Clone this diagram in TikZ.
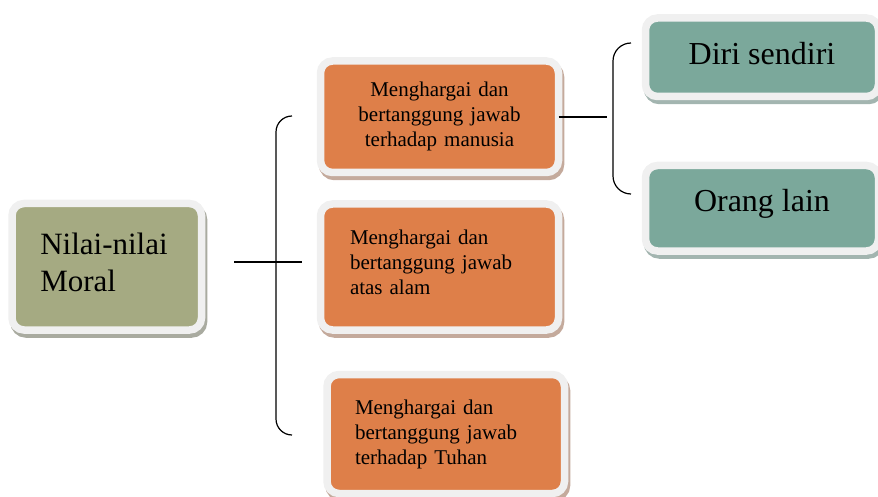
\documentclass[tikz,border=0pt]{standalone}
\usepackage{fontspec}
\setmainfont{Liberation Serif}
\usetikzlibrary{calc}
\definecolor{framecol}{HTML}{F0F0F0}
\definecolor{olivefill}{HTML}{A5AA82}
\definecolor{olivesh}{HTML}{A9ABA0}
\definecolor{orangefill}{HTML}{DE7F49}
\definecolor{orangesh}{HTML}{C4AA9C}
\definecolor{tealfill}{HTML}{7BA89B}
\definecolor{tealsh}{HTML}{A3B5B0}
\tikzset{
  card/.style 2 args={rounded corners=12pt, fill=#1, draw=framecol, line width=7.5pt,
    inner sep=0pt, outer sep=0pt,
    preaction={draw=#2, fill=#2, line width=7.5pt,
      transform canvas={xshift=2pt, yshift=-4pt}}},
  olivecard/.style={card={olivefill}{olivesh}},
  orangecard/.style={card={orangefill}{orangesh}},
  tealcard/.style={card={tealfill}{tealsh}},
  bracket/.style={draw=black, line width=1.2pt, rounded corners=16pt},
  link/.style={draw=black, line width=1.2pt},
  bigtext/.style={font=\fontsize{31}{37}\selectfont},
  midtext/.style={font=\fontsize{21}{25}\selectfont},
  headtext/.style={font=\fontsize{32}{38}\selectfont},
}
\begin{document}
\begin{tikzpicture}[x=1pt, y=-1pt]
  \useasboundingbox (0,0) rectangle (878,497);

  % root box
  \node[olivecard, bigtext, minimum width=189.5pt, minimum height=126.5pt,
        text width=133pt, align=left, text depth=47pt] (moral) at (106.75,266.75)
        {Nilai-nilai\\Moral};

  % second level boxes
  \node[orangecard, midtext, minimum width=238pt, minimum height=111.5pt,
        text width=200pt, align=center] (manusia) at (439.5,116.75)
        {Menghargai dan\\bertanggung jawab\\terhadap manusia};
  \node[orangecard, midtext, minimum width=238pt, minimum height=126pt,
        text width=179pt, align=left, text depth=60pt] (alam) at (439.5,267)
        {Menghargai dan\\bertanggung jawab\\atas alam};
  \node[orangecard, midtext, minimum width=237.5pt, minimum height=119pt,
        text width=181.5pt, align=left] (tuhan) at (445.75,434)
        {Menghargai dan\\bertanggung jawab\\terhadap Tuhan};

  % third level boxes
  \node[tealcard, headtext, minimum width=233pt, minimum height=78.5pt,
        align=center, text depth=7pt] (diri) at (762,57.25) {Diri sendiri};
  \node[tealcard, headtext, minimum width=233pt, minimum height=85.5pt,
        align=center, text depth=15pt] (lain) at (762,208.25) {Orang lain};

  % bracket from the root to the second level
  \coordinate (rootout) at ($(moral.east)+(32.5pt,4.75pt)$);
  \coordinate (rootstem) at (302,262);
  \coordinate (topend) at (292,116);
  \coordinate (botend) at (292,435);
  \draw[link] (rootout) -- (rootstem);
  \draw[bracket] (topend) -- (276,116) -- (276,435) -- (botend);

  % bracket from the first orange box to the third level
  \coordinate (subout) at ($(manusia.east)+(0pt,-0.25pt)$);
  \coordinate (substem) at (607,117);
  \coordinate (subtop) at (631,43);
  \coordinate (subbot) at (631,194);
  \draw[link] (subout) -- (substem);
  \draw[bracket, rounded corners=18pt] (subtop) -- (613,43) -- (613,194) -- (subbot);
\end{tikzpicture}
\end{document}
